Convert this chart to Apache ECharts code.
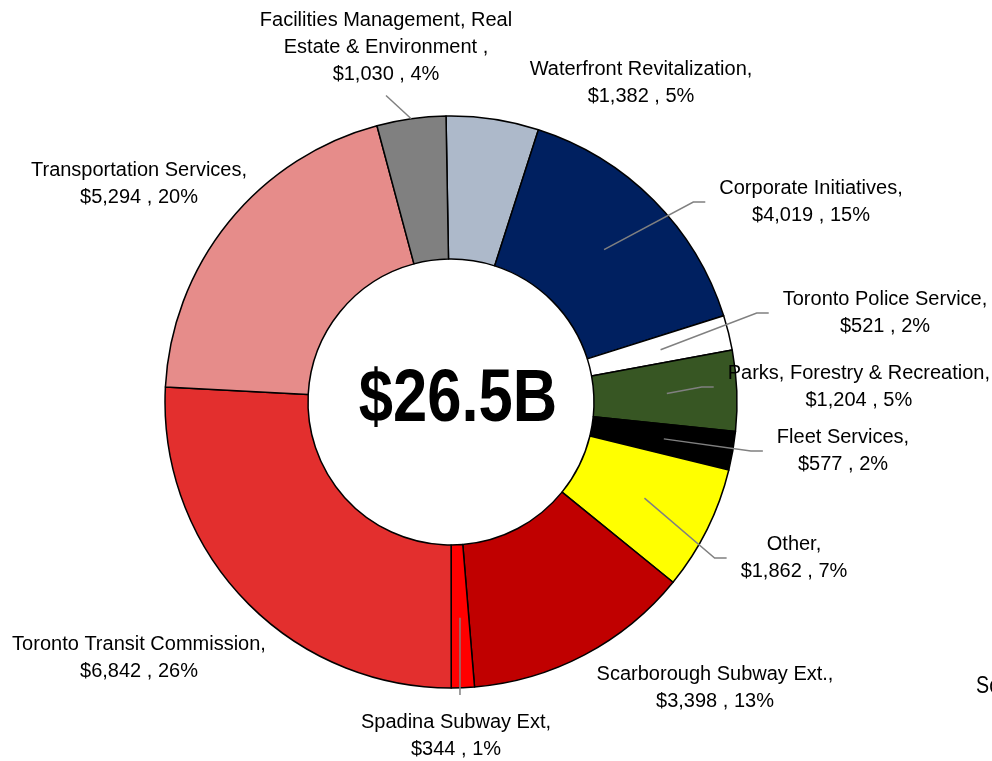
<!DOCTYPE html>
<html>
<head>
<meta charset="utf-8">
<script src="https://cdn.jsdelivr.net/npm/echarts@6/dist/echarts.min.js"></script>
<style>
  html, body { margin: 0; padding: 0; background: #fff; }
  #chart { width: 992px; height: 761px; }
</style>
</head>
<body>
<div id="chart"></div>
<script>
// 资本预算构成（百万）
var names = [
  'Waterfront Revitalization,',
  'Corporate Initiatives,',
  'Toronto Police Service,',
  'Parks, Forestry & Recreation,',
  'Fleet Services,',
  'Other,',
  'Scarborough Subway Ext.,',
  'Spadina Subway Ext,',
  'Toronto Transit Commission,',
  'Transportation Services,',
  'Facilities Management, Real\nEstate & Environment ,'
];
var values = [1382, 4019, 521, 1204, 577, 1862, 3398, 344, 6842, 5294, 1030];
var colors = ['#ADB9CA', '#002060', '#FFFFFF', '#375623', '#000000', '#FFFF00',
  '#C00000', '#FF0000', '#E32F2E', '#E68C8A', '#808080'];
var centerText = '$26.5B';

// leader line: 'none' | 'left' (line meets label's left side) | 'top' | 'bottom'
var leader = ['none', 'left', 'left', 'left', 'left', 'left', 'none', 'top', 'none', 'none', 'bottom'];
// where the line starts: radius inside the ring
var leaderR = [0, 216, 216, 216, 216, 216, 0, 216, 0, 0, 286];
// label block centres
var labelPos = [
  [641, 83], [811, 202], [885, 313], [873, 387], [843, 451], [794, 558],
  [715, 688], [456, 736], [139, 658], [139, 184], [386, 47]
];

var cx = 451, cy = 402, startAngle = 91;
var total = values.reduce(function (a, b) { return a + b; }, 0);
var font = "'Liberation Sans', Arial, sans-serif";

var chart = echarts.init(document.getElementById('chart'));

function fmt(p) {
  var v = values[p.dataIndex];
  return names[p.dataIndex] + '\n$' + v.toLocaleString('en-US') + ' , ' + Math.round(v / total * 100) + '%';
}

function midPoint(i, r) {
  var before = 0;
  for (var k = 0; k < i; k++) before += values[k];
  var a = (90 - startAngle + (before + values[i] / 2) / total * 360) * Math.PI / 180;
  return [cx + r * Math.sin(a), cy - r * Math.cos(a)];
}

function layout(p) {
  var i = p.dataIndex;
  var w = p.labelRect.width, h = p.labelRect.height;
  var x = Math.min(labelPos[i][0], 990 - w / 2);
  var y = labelPos[i][1];
  var res = { x: x, y: y, align: 'center', verticalAlign: 'middle' };
  var gap = 14, seg = 12;
  var start, end, elbow;
  if (leader[i] === 'none') return res;
  start = midPoint(i, leaderR[i]);
  if (leader[i] === 'left') {
    end = [x - w / 2 - gap, y];
    elbow = [end[0] - seg, end[1]];
  } else if (leader[i] === 'top') {
    end = [start[0], y - h / 2 - gap];
    elbow = [end[0], end[1] - seg];
  } else {
    end = [x, y + h / 2 + 8];
    elbow = end;
  }
  res.labelLinePoints = [start, elbow, end];
  return res;
}

var sliceData = values.map(function (v, i) {
  return { value: v, name: names[i], itemStyle: { color: colors[i] } };
});

// 透明的同尺寸饼图，只负责标签和引导线（画在扇区上面）
var labelData = values.map(function (v, i) {
  return { value: v, name: names[i], labelLine: { show: leader[i] !== 'none' } };
});

var option = {
  animation: false,
  series: [
    {
      type: 'pie',
      z: 2,
      radius: [143, 286],
      center: [cx, cy],
      startAngle: startAngle,
      clockwise: true,
      silent: true,
      itemStyle: { borderColor: '#000', borderWidth: 1.5 },
      label: { show: false },
      labelLine: { show: false },
      data: sliceData
    },
    {
      type: 'pie',
      z: 5,
      radius: [143, 286],
      center: [cx, cy],
      startAngle: startAngle,
      clockwise: true,
      avoidLabelOverlap: false,
      silent: true,
      itemStyle: { color: 'rgba(0,0,0,0)', borderWidth: 0 },
      label: {
        position: 'outside',
        formatter: fmt,
        fontFamily: font,
        fontSize: 20,
        lineHeight: 27,
        color: '#000',
        align: 'center'
      },
      labelLine: {
        length: 10,
        length2: 10,
        lineStyle: { color: '#808080', width: 1.5 }
      },
      labelLayout: layout,
      data: labelData
    }
  ],
  graphic: [
    {
      type: 'text',
      x: cx + 7,
      y: 400,
      scaleX: 0.82,
      z: 10,
      style: {
        text: centerText,
        font: 'bold 75px ' + font,
        fill: '#000',
        textAlign: 'center',
        textVerticalAlign: 'middle'
      }
    },
    {
      type: 'text',
      x: 976,
      y: 686,
      scaleX: 0.82,
      style: {
        text: 'Scarborough',
        font: '24px ' + font,
        fill: '#000',
        textAlign: 'left',
        textVerticalAlign: 'middle'
      }
    }
  ]
};

chart.setOption(option);
</script>
</body>
</html>
